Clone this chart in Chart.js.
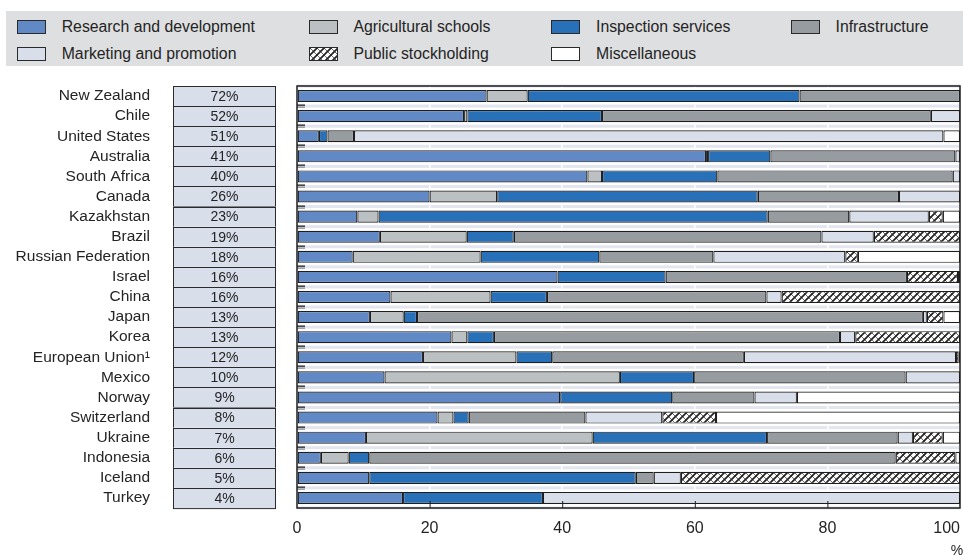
<!DOCTYPE html>
<html>
<head>
<meta charset="utf-8">
<script src="https://cdn.jsdelivr.net/npm/chart.js@4.4.1/dist/chart.umd.min.js"></script>
<style>
  html, body { margin: 0; padding: 0; background: #fff; }
  #wrap { position: relative; width: 963px; height: 559px; overflow: hidden;
          font-family: "Liberation Sans", Arial, sans-serif; color: #242424; }
  #chart { position: absolute; left: 0; top: 0; }
  #legend { position: absolute; left: 6px; top: 11px; width: 957px; height: 55px; background: #dedfe0; }
  .item { position: absolute; height: 20px; font-size: 15.8px; line-height: 20px; white-space: nowrap; }
  .sw { position: absolute; left: 0; top: 3px; width: 27px; height: 12px; border: 1px solid #2a2a2a; }
  .item span { position: absolute; left: 45px; top: 0; }
</style>
</head>
<body>
<div id="wrap">
  <canvas id="chart" width="963" height="559"></canvas>
  <div id="legend"></div>
</div>
<script>
// Share of each support category in total general services support, by country
const countries = ['New Zealand', 'Chile', 'United States', 'Australia', 'South Africa', 'Canada',
  'Kazakhstan', 'Brazil', 'Russian Federation', 'Israel', 'China', 'Japan', 'Korea',
  'European Union\u00B9', 'Mexico', 'Norway', 'Switzerland', 'Ukraine', 'Indonesia', 'Iceland', 'Turkey']
const shares = [72, 52, 51, 41, 40, 26, 23, 19, 18, 16, 16, 13, 13, 12, 10, 9, 8, 7, 6, 5, 4]

const seriesNames = ['Research and development', 'Agricultural schools', 'Inspection services',
  'Infrastructure', 'Marketing and promotion', 'Public stockholding', 'Miscellaneous']

const research = [28.6, 25.2, 3.3, 61.7, 43.8, 20.0, 9.1, 12.5, 8.4, 39.3, 14.1, 11.0, 23.3, 19.0, 13.2, 39.7, 21.2, 10.4, 3.6, 10.9, 16.0]
const schools = [6.2, 0.5, 0, 0.3, 2.2, 10.2, 3.2, 13.1, 19.3, 0, 15.1, 5.1, 2.4, 14.1, 35.5, 0, 2.4, 34.2, 4.2, 0, 0]
const inspection = [41.0, 20.3, 1.3, 9.4, 17.4, 39.3, 58.7, 7.1, 17.9, 16.3, 8.5, 2.0, 4.0, 5.4, 11.2, 16.9, 2.3, 26.3, 3.1, 40.2, 21.1]
const infrastructure = [24.2, 49.6, 4.0, 27.9, 35.5, 21.3, 12.3, 46.4, 17.2, 36.4, 33.1, 76.3, 52.2, 28.9, 31.9, 12.4, 17.6, 19.7, 79.4, 2.7, 0]
const marketing = [0, 4.4, 88.9, 0.7, 1.1, 9.2, 12.0, 7.9, 19.9, 0, 2.3, 0.6, 2.3, 32.0, 8.2, 6.4, 11.6, 2.3, 0, 4.1, 62.9]
const stockholding = [0, 0, 0, 0, 0, 0, 2.1, 13.0, 1.9, 7.7, 26.9, 2.5, 15.8, 0.4, 0, 0, 8.1, 4.5, 9.0, 42.1, 0]
const misc = [0, 0, 2.5, 0, 0, 0, 2.6, 0, 15.4, 0.3, 0, 2.5, 0, 0.2, 0, 24.6, 36.8, 2.6, 0.7, 0, 0]

const xTicks = [0, 20, 40, 60, 80, 100]

const FONT = '"Liberation Sans", Arial, sans-serif'
const TEXT = '#242424'

// hatched fill for public stockholding
function makeHatch() {
  const c = document.createElement('canvas')
  c.width = 7
  c.height = 7
  const g = c.getContext('2d')
  g.fillStyle = '#fff'
  g.fillRect(0, 0, 7, 7)
  g.strokeStyle = '#222'
  g.lineWidth = 1.7
  g.beginPath()
  g.moveTo(-1, 8); g.lineTo(8, -1)
  g.moveTo(-1, 1); g.lineTo(1, -1)
  g.moveTo(6, 8); g.lineTo(8, 6)
  g.stroke()
  g.lineWidth = 0.7
  g.beginPath()
  g.moveTo(-1, -1); g.lineTo(8, 8)
  g.stroke()
  return c
}
const hatchCanvas = makeHatch()
const hatch = document.getElementById('chart').getContext('2d').createPattern(hatchCanvas, 'repeat')

const colors = ['#6089c6', '#bbc0c3', '#2870b8', '#979ca1', '#d8dfea', hatch, '#ffffff']
const seriesValues = [research, schools, inspection, infrastructure, marketing, stockholding, misc]

// legend, 4 columns x 2 rows
const legendCols = [10.7, 302.5, 545, 784.5]
const legendEl = document.getElementById('legend')
seriesNames.forEach((name, i) => {
  const item = document.createElement('div')
  item.className = 'item'
  item.style.left = legendCols[i % 4] + 'px'
  item.style.top = (i < 4 ? 6 : 33) + 'px'
  const sw = document.createElement('div')
  sw.className = 'sw'
  if (i === 5) {
    sw.style.backgroundImage = 'url(' + hatchCanvas.toDataURL() + ')'
  } else {
    sw.style.background = colors[i]
  }
  const label = document.createElement('span')
  label.textContent = name
  item.appendChild(sw)
  item.appendChild(label)
  legendEl.appendChild(item)
})

const decor = {
  id: 'decor',
  beforeDraw(chart) {
    const { ctx, chartArea: a, scales: { y } } = chart
    ctx.save()
    ctx.fillStyle = '#e3e6ee'
    for (let i = 0; i <= countries.length; i++) {
      const b = y.getPixelForValue(i - 0.5)
      ctx.fillRect(a.left, b - 1.5, a.right - a.left, 3)
    }
    ctx.restore()
  },
  afterDraw(chart) {
    const { ctx, chartArea: a, scales: { x, y } } = chart
    ctx.save()

    // share column
    ctx.font = '14px ' + FONT
    ctx.textAlign = 'center'
    ctx.textBaseline = 'middle'
    shares.forEach((s, i) => {
      const top = y.getPixelForValue(i - 0.5)
      const bot = y.getPixelForValue(i + 0.5)
      ctx.fillStyle = '#d8dfea'
      ctx.fillRect(173, top, 103, bot - top)
      ctx.strokeStyle = '#2a2a2a'
      ctx.lineWidth = 1
      ctx.strokeRect(173.5, Math.round(top) + 0.5, 102, bot - top)
      ctx.fillStyle = TEXT
      ctx.fillText(s + '%', 224.5, (top + bot) / 2 + 1)
    })

    // small marks on the left edge between rows
    for (let i = 1; i < countries.length; i++) {
      const b = Math.round(y.getPixelForValue(i - 0.5))
      ctx.fillStyle = '#222'
      ctx.fillRect(a.left, b - 1.5, 8, 1.3)
      ctx.fillStyle = '#8a8f96'
      ctx.fillRect(a.left, b + 0.5, 8, 1.3)
    }

    // plot frame
    ctx.strokeStyle = '#1e1e1e'
    ctx.lineWidth = 1.5
    ctx.strokeRect(a.left, a.top, a.right - a.left, a.bottom - a.top)

    // inner tick marks and labels on the value axis
    ctx.lineWidth = 1
    ctx.font = '16px ' + FONT
    ctx.fillStyle = TEXT
    x.ticks.forEach(t => {
      const px = x.getPixelForValue(t.value)
      if (t.value > 0 && t.value < 100) {
        ctx.beginPath()
        ctx.moveTo(px + 0.5, a.bottom - 7)
        ctx.lineTo(px + 0.5, a.bottom)
        ctx.stroke()
      }
      const label = String(t.value)
      const w = ctx.measureText(label).width
      const cx = Math.min(px, 960 - w / 2)
      ctx.fillText(label, cx, 529)
    })
    ctx.font = '14px ' + FONT
    ctx.fillText('%', 957, 551)
    ctx.restore()
  }
}

new Chart(document.getElementById('chart'), {
  type: 'bar',
  data: {
    labels: countries,
    datasets: seriesNames.map((name, i) => ({
      label: name,
      data: seriesValues[i].map(v => v || null),
      backgroundColor: colors[i],
      borderColor: '#1e1e1e',
      borderWidth: 1.2,
      borderSkipped: false,
      barPercentage: 0.6,
      categoryPercentage: 1
    }))
  },
  options: {
    indexAxis: 'y',
    responsive: false,
    animation: false,
    layout: { autoPadding: false, padding: { top: 86, right: 3, bottom: 11, left: 0 } },
    plugins: { legend: { display: false }, tooltip: { enabled: false } },
    scales: {
      x: {
        stacked: true,
        min: 0,
        max: 100,
        afterBuildTicks: (s) => { s.ticks = xTicks.map(v => ({ value: v })) },
        afterFit: (s) => { s.height = 40 },
        grid: { color: '#ffffff', lineWidth: 1.5, drawTicks: false },
        border: { display: false },
        ticks: { display: false }
      },
      y: {
        stacked: true,
        offset: true,
        // fixed axis width; drop the extra top/bottom padding the tick padding adds
        afterFit: (s) => { s.width = 297; s.paddingTop = 0; s.paddingBottom = 0 },
        grid: { display: false, drawTicks: false },
        border: { display: false },
        ticks: {
          autoSkip: false,
          padding: 147,
          color: TEXT,
          font: { family: FONT, size: 15.5 }
        }
      }
    }
  },
  plugins: [decor]
})
</script>
</body>
</html>
